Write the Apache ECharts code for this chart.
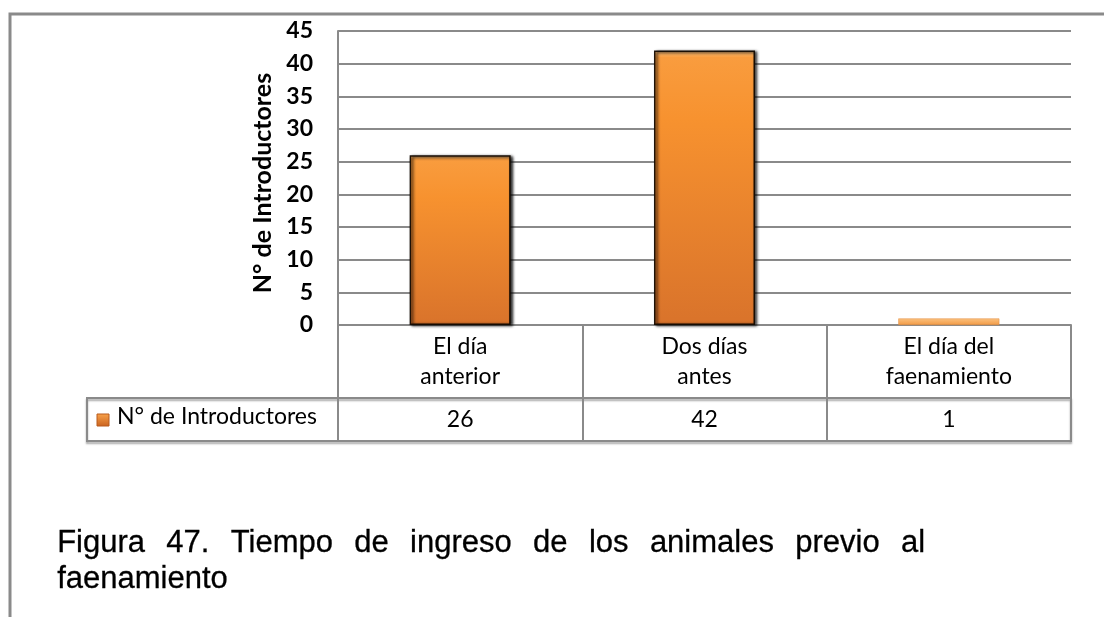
<!DOCTYPE html>
<html>
<head>
<meta charset="utf-8">
<script src="https://cdn.jsdelivr.net/npm/echarts@6/dist/echarts.min.js"></script>
<style>
html,body{margin:0;padding:0;background:#fff;}
#chart{width:1104px;height:617px;}
</style>
</head>
<body>
<div id="chart"></div>
<script>
const categories = ['El día\nanterior', 'Dos días\nantes', 'El día del\nfaenamiento'];
const values = [26, 42, 1];
const seriesName = 'N° de Introductores';
const yTicks = { min: 0, max: 45, interval: 5 };
const captionLine1 = 'Figura 47. Tiempo de ingreso de los animales previo al';
const captionLine2 = 'faenamiento';

const chart = echarts.init(document.getElementById('chart'));
const gray = '#8a8a8a';
const font = 'Lato';

// justified caption words
const capFont = '31px "Liberation Sans"';
const cv = document.createElement('canvas').getContext('2d');
cv.font = capFont;
const words = captionLine1.split(' ');
const capLeft = 57, capRight = 925;
const wWidths = words.map(w => cv.measureText(w).width);
const totalW = wWidths.reduce((a, b) => a + b, 0);
const gap = (capRight - capLeft - totalW) / (words.length - 1);
const capElems = [];
let cx = capLeft;
words.forEach((w, i) => {
  capElems.push({ type: 'text', left: cx, top: 528, style: { text: w, font: capFont, fill: '#000', stroke: '#000', lineWidth: 0.3 } });
  cx += wWidths[i] + gap;
});
capElems.push({ type: 'text', left: capLeft, top: 564, style: { text: captionLine2, font: capFont, fill: '#000', stroke: '#000', lineWidth: 0.3 } });

const barGradient = new echarts.graphic.LinearGradient(0, 0, 0, 1, [
  { offset: 0, color: '#FCC27E' },
  { offset: 0.025, color: '#F99C3E' },
  { offset: 0.25, color: '#F7922F' },
  { offset: 1, color: '#D9732B' }
]);
const baseStyle = {
  color: barGradient,
  borderColor: 'rgba(20,10,0,0.95)',
  borderWidth: 1.5,
  shadowColor: 'rgba(0,0,0,1)',
  shadowBlur: 3,
  shadowOffsetX: 2,
  shadowOffsetY: 1
};
const thinStyle = {
  color: new echarts.graphic.LinearGradient(0, 0, 0, 1, [{ offset: 0, color: '#FBC27F' }, { offset: 1, color: '#F29A45' }]),
  borderColor: '#E08A3A',
  borderWidth: 0.5,
  shadowBlur: 0
};

const option = {
  animation: false,
  grid: { left: 338, right: 33, top: 31, bottom: 292, containLabel: false },
  xAxis: [
    {
      type: 'category',
      data: categories,
      position: 'bottom',
      axisLine: { show: true, lineStyle: { color: gray, width: 2 } },
      axisTick: { show: true, interval: 0, length: 116, lineStyle: { color: gray, width: 2 } },
      axisLabel: { interval: 0, margin: 7, fontFamily: font, fontSize: 23, color: '#000', lineHeight: 30 },
      splitLine: { show: false }
    },
    {
      type: 'category',
      data: categories,
      position: 'bottom',
      offset: 73,
      axisLine: { show: false },
      axisTick: { show: false },
      axisLabel: {
        interval: 0, margin: 10, fontFamily: font, fontSize: 23, color: '#000',
        formatter: (v, i) => String(values[i])
      }
    }
  ],
  yAxis: {
    type: 'value',
    min: yTicks.min, max: yTicks.max, interval: yTicks.interval,
    name: seriesName,
    nameLocation: 'middle',
    nameGap: 62,
    nameRotate: 90,
    nameTextStyle: { fontFamily: font, fontWeight: 'bold', fontSize: 25, color: '#000', padding: [0, 10, 0, 0] },
    axisLine: { show: true, lineStyle: { color: gray, width: 2 } },
    axisTick: { show: false },
    axisLabel: { margin: 25, fontFamily: font, fontWeight: 'bold', fontSize: 23, color: '#000' },
    splitLine: { show: true, lineStyle: { color: gray, width: 2 } }
  },
  series: [{
    type: 'bar',
    name: seriesName,
    data: values.map(v => ({ value: v, itemStyle: v < 3 ? thinStyle : baseStyle })),
    barWidth: 101,
    xAxisIndex: 0
  }],
  graphic: [
    { type: 'polyline', shape: { points: [[10, 617], [10, 14], [1104, 14]] }, style: { stroke: gray, lineWidth: 3, fill: null } },
    { type: 'rect', shape: { x: 87, y: 398, width: 984, height: 43 }, style: { fill: null, stroke: gray, lineWidth: 2, shadowColor: 'rgba(0,0,0,0.35)', shadowBlur: 2, shadowOffsetY: 2 } },
    { type: 'rect', shape: { x: 97, y: 414, width: 12, height: 12 },
      style: { fill: new echarts.graphic.LinearGradient(0, 0, 0, 1, [{ offset: 0, color: '#F9A34A' }, { offset: 1, color: '#C9621F' }]), stroke: '#B85A1C', lineWidth: 1 } },
    { type: 'text', left: 117, top: 405, style: { text: seriesName, font: '23px Lato', fill: '#000' } }
  ].concat(capElems)
};
chart.setOption(option);
</script>
</body>
</html>
